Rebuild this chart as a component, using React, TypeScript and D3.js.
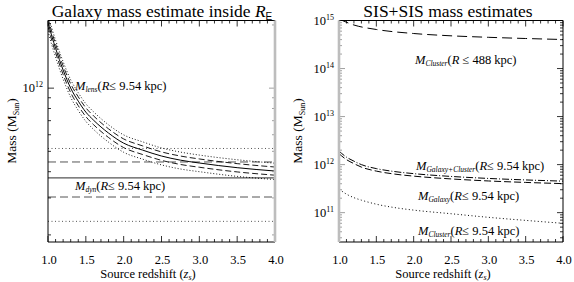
import React from "react";
import * as d3 from "d3";

// source redshift grid for the lens-mass curve (left panel)
const lensZ = [1.0, 1.05, 1.1, 1.2, 1.3, 1.4, 1.5, 1.6, 1.8, 2.0, 2.25, 2.5, 2.75, 3.0, 3.5, 4.0];
const lensMass = [2.06e12, 1.77e12, 1.55e12, 1.22e12, 1.0e12, 8.67e11, 7.69e11, 7.05e11, 6.11e11, 5.47e11, 5.07e11, 4.75e11, 4.54e11, 4.4e11, 4.18e11, 4.03e11];
const lensSigma = [9.5e10, 8.2e10, 7.2e10, 5.8e10, 4.8e10, 4.2e10, 3.7e10, 3.4e10, 2.9e10, 2.6e10, 2.4e10, 2.2e10, 2.1e10, 2.0e10, 1.9e10, 1.8e10];
const dynMass = 3.74e11;
const dynSigma = 0.71e11;

// right panel (SIS+SIS)
const bigClusterZ = [1.0, 1.2, 1.5, 2.0, 2.5, 3.0, 3.5, 4.0];
const bigClusterMass = [1.07e15, 8.06e14, 6.5e14, 5.36e14, 4.8e14, 4.47e14, 4.22e14, 4.02e14];
const sisZ = [1.0, 1.1, 1.2, 1.3, 1.5, 1.75, 2.0, 2.5, 3.0, 3.5, 4.0];
const galClusterMass = [1.91e12, 1.43e12, 1.18e12, 1.0e12, 8.26e11, 7.15e11, 6.49e11, 5.68e11, 5.16e11, 4.8e11, 4.53e11];
const galaxyMass = [1.69e12, 1.27e12, 1.05e12, 8.87e11, 7.33e11, 6.34e11, 5.76e11, 5.04e11, 4.57e11, 4.26e11, 4.02e11];
const smallClusterMass = [3.09e11, 2.43e11, 2.05e11, 1.82e11, 1.5e11, 1.27e11, 1.13e11, 9.5e10, 8.0e10, 6.9e10, 6.0e10];

const xMajor = [1.0, 1.5, 2.0, 2.5, 3.0, 3.5, 4.0];
const FONT = '"Liberation Serif", "DejaVu Serif", serif';
const TOP = 20.5;
const BOTTOM = 242;

type Scale = d3.ScaleLogarithmic<number, number>;

function logTicks(y: Scale) {
  const [lo, hi] = y.domain();
  const out: { v: number; major: boolean }[] = [];
  for (let e = Math.floor(Math.log10(lo)); e <= Math.ceil(Math.log10(hi)); e++) {
    for (let k = 1; k <= 9; k++) {
      const v = k * Math.pow(10, e);
      if (v >= lo * 0.999 && v <= hi * 1.001) out.push({ v, major: k === 1 });
    }
  }
  return out;
}

function Frame({ x, y, id, greyLeft, greyRight }: { x: d3.ScaleLinear<number, number>; y: Scale; id: string; greyLeft?: boolean; greyRight?: boolean }) {
  const [x0, x1] = x.range();
  const minorX = d3.range(1.0, 4.0001, 0.1);
  const yt = logTicks(y);
  return (
    <g>
      <clipPath id={id}>
        <rect x={x0} y={TOP} width={x1 - x0} height={BOTTOM - TOP} />
      </clipPath>
      {minorX.map((v, i) => {
        const big = xMajor.some((m) => Math.abs(m - v) < 1e-6);
        const len = big ? 6 : 3;
        return (
          <g key={i} stroke="#000" strokeWidth={0.8}>
            <line x1={x(v)} x2={x(v)} y1={BOTTOM} y2={BOTTOM - len} />
            <line x1={x(v)} x2={x(v)} y1={TOP} y2={TOP + len} />
          </g>
        );
      })}
      {yt.map((t, i) => {
        const len = t.major ? 6 : 3;
        return (
          <g key={i} strokeWidth={0.8}>
            <line x1={x0} x2={x0 + len} y1={y(t.v)} y2={y(t.v)} stroke={greyLeft ? "#888" : "#000"} />
            <line x1={x1} x2={x1 - len} y1={y(t.v)} y2={y(t.v)} stroke={greyRight ? "#888" : "#000"} />
          </g>
        );
      })}
      <line x1={x0} x2={x1} y1={TOP} y2={TOP} stroke="#000" strokeWidth={1} />
      <line x1={x0} x2={x1} y1={BOTTOM} y2={BOTTOM} stroke="#000" strokeWidth={1} />
      <line x1={x0} x2={x0} y1={TOP} y2={BOTTOM} stroke={greyLeft ? "#bdbdbd" : "#000"} strokeWidth={greyLeft ? 2.6 : 1} />
      <line x1={x1} x2={x1} y1={TOP} y2={BOTTOM} stroke={greyRight ? "#bdbdbd" : "#000"} strokeWidth={greyRight ? 2.6 : 1} />
      {xMajor.map((v) => (
        <text key={v} x={x(v) + 1} y={264} textAnchor="middle" fontSize={12.5} fontFamily={FONT}>
          {v.toFixed(1)}
        </text>
      ))}
      {yt.filter((t) => t.major).map((t) => (
        <text key={t.v} x={x0 - 5} y={y(t.v) + 4} textAnchor="end" fontSize={12.5} fontFamily={FONT}>
          10<tspan fontSize={8} dy={-5}>{Math.round(Math.log10(t.v))}</tspan>
        </text>
      ))}
    </g>
  );
}

function MassLabel({ x, y, sub, rest }: { x: number; y: number; sub: string; rest: React.ReactNode }) {
  return (
    <text x={x} y={y} fontSize={12.5} fontFamily={FONT}>
      <tspan fontStyle="italic">M</tspan>
      <tspan fontStyle="italic" fontSize={7.5} dy={2}>{sub}</tspan>
      <tspan dy={-2}>(</tspan>
      <tspan fontStyle="italic">R</tspan>
      {rest}
    </text>
  );
}

function AxisTitles({ cx, ylabX }: { cx: number; ylabX: number }) {
  return (
    <g fontFamily={FONT}>
      <text x={cx} y={278} textAnchor="middle" fontSize={12.5}>
        Source redshift (<tspan fontStyle="italic">z</tspan>
        <tspan fontStyle="italic" fontSize={8} dy={2}>s</tspan>
        <tspan dy={-2}>)</tspan>
      </text>
      <text transform={`translate(${ylabX},131) rotate(-90)`} textAnchor="middle" fontSize={13.5}>
        Mass (M<tspan fontSize={8} dy={3}>Sun</tspan>
        <tspan dy={-3}>)</tspan>
      </text>
    </g>
  );
}

export default function App() {
  // left panel
  const xL = d3.scaleLinear().domain([1, 4]).range([48, 275]);
  const yL = d3.scaleLog().domain([1.85e11, 2.1e12]).range([BOTTOM, TOP]);
  // right panel
  const xR = d3.scaleLinear().domain([1, 4]).range([339, 563]);
  const yR = d3.scaleLog().domain([2.45e10, 1e15]).range([BOTTOM, TOP]);

  const lineL = (vals: number[]) =>
    d3.line<number>().x((_, i) => xL(lensZ[i])).y((d) => yL(d)).curve(d3.curveMonotoneX)(vals) || "";
  const lineR = (zs: number[], vals: number[]) =>
    d3.line<number>().x((_, i) => xR(zs[i])).y((d) => yR(d)).curve(d3.curveMonotoneX)(vals) || "";

  const band = (k: number) => lensMass.map((m, i) => m + k * lensSigma[i]);
  const dynLevels = [
    { v: dynMass + 2 * dynSigma, dash: "1,2.5" },
    { v: dynMass + dynSigma, dash: "8,4" },
    { v: dynMass, dash: "" },
    { v: dynMass - dynSigma, dash: "8,4" },
    { v: dynMass - 2 * dynSigma, dash: "1,2.5" },
  ];

  return (
    <svg width={574} height={282} style={{ position: "absolute", left: 0, top: 0, background: "#fff" }}>
      <rect width={574} height={282} fill="#fff" />
      {/* left panel */}
      <text x={162} y={17} textAnchor="middle" fontSize={17.5} fontFamily={FONT}>
        Galaxy mass estimate inside <tspan fontStyle="italic">R</tspan>
        <tspan fontSize={10} fontFamily="Liberation Sans, DejaVu Sans, sans-serif" dy={3}>E</tspan>
      </text>
      <g clipPath="url(#clipL)" fill="none">
        {dynLevels.map((d, i) => (
          <line key={i} x1={xL(1)} x2={xL(4)} y1={yL(d.v)} y2={yL(d.v)} stroke="#555" strokeWidth={d.dash ? 1 : 1.2} strokeDasharray={d.dash} />
        ))}
        <path d={lineL(band(2))} stroke="#000" strokeWidth={0.9} strokeDasharray="1,2" />
        <path d={lineL(band(-2))} stroke="#000" strokeWidth={0.9} strokeDasharray="1,2" />
        <path d={lineL(band(1))} stroke="#000" strokeWidth={0.9} strokeDasharray="6,3" />
        <path d={lineL(band(-1))} stroke="#000" strokeWidth={0.9} strokeDasharray="6,3" />
        <path d={lineL(lensMass)} stroke="#000" strokeWidth={1} />
      </g>
      <Frame x={xL} y={yL} id="clipL" greyRight />
      <MassLabel x={75} y={90} sub="lens" rest="≤ 9.54 kpc)" />
      <MassLabel x={75} y={190} sub="dyn" rest="≤ 9.54 kpc)" />
      <AxisTitles cx={148} ylabX={16} />

      {/* right panel */}
      <text x={448} y={17} textAnchor="middle" fontSize={17.5} fontFamily={FONT}>
        SIS+SIS mass estimates
      </text>
      <g clipPath="url(#clipR)" fill="none" stroke="#000" strokeWidth={1}>
        <path d={lineR(bigClusterZ, bigClusterMass)} strokeDasharray="10,5" />
        <path d={lineR(sisZ, galClusterMass)} strokeDasharray="7,2,1,2" />
        <path d={lineR(sisZ, galaxyMass)} strokeDasharray="7,3" />
        <path d={lineR(sisZ, smallClusterMass)} strokeDasharray="1,2.5" />
      </g>
      <Frame x={xR} y={yR} id="clipR" greyLeft />
      <MassLabel x={415} y={64} sub="Cluster" rest={<tspan> ≤ 488 kpc)</tspan>} />
      <MassLabel x={416} y={170} sub="Galaxy+Cluster" rest="≤ 9.54 kpc)" />
      <MassLabel x={418} y={200} sub="Galaxy" rest="≤ 9.54 kpc)" />
      <MassLabel x={418} y={235} sub="Cluster" rest="≤ 9.54 kpc)" />
      <AxisTitles cx={443} ylabX={302} />
    </svg>
  );
}
